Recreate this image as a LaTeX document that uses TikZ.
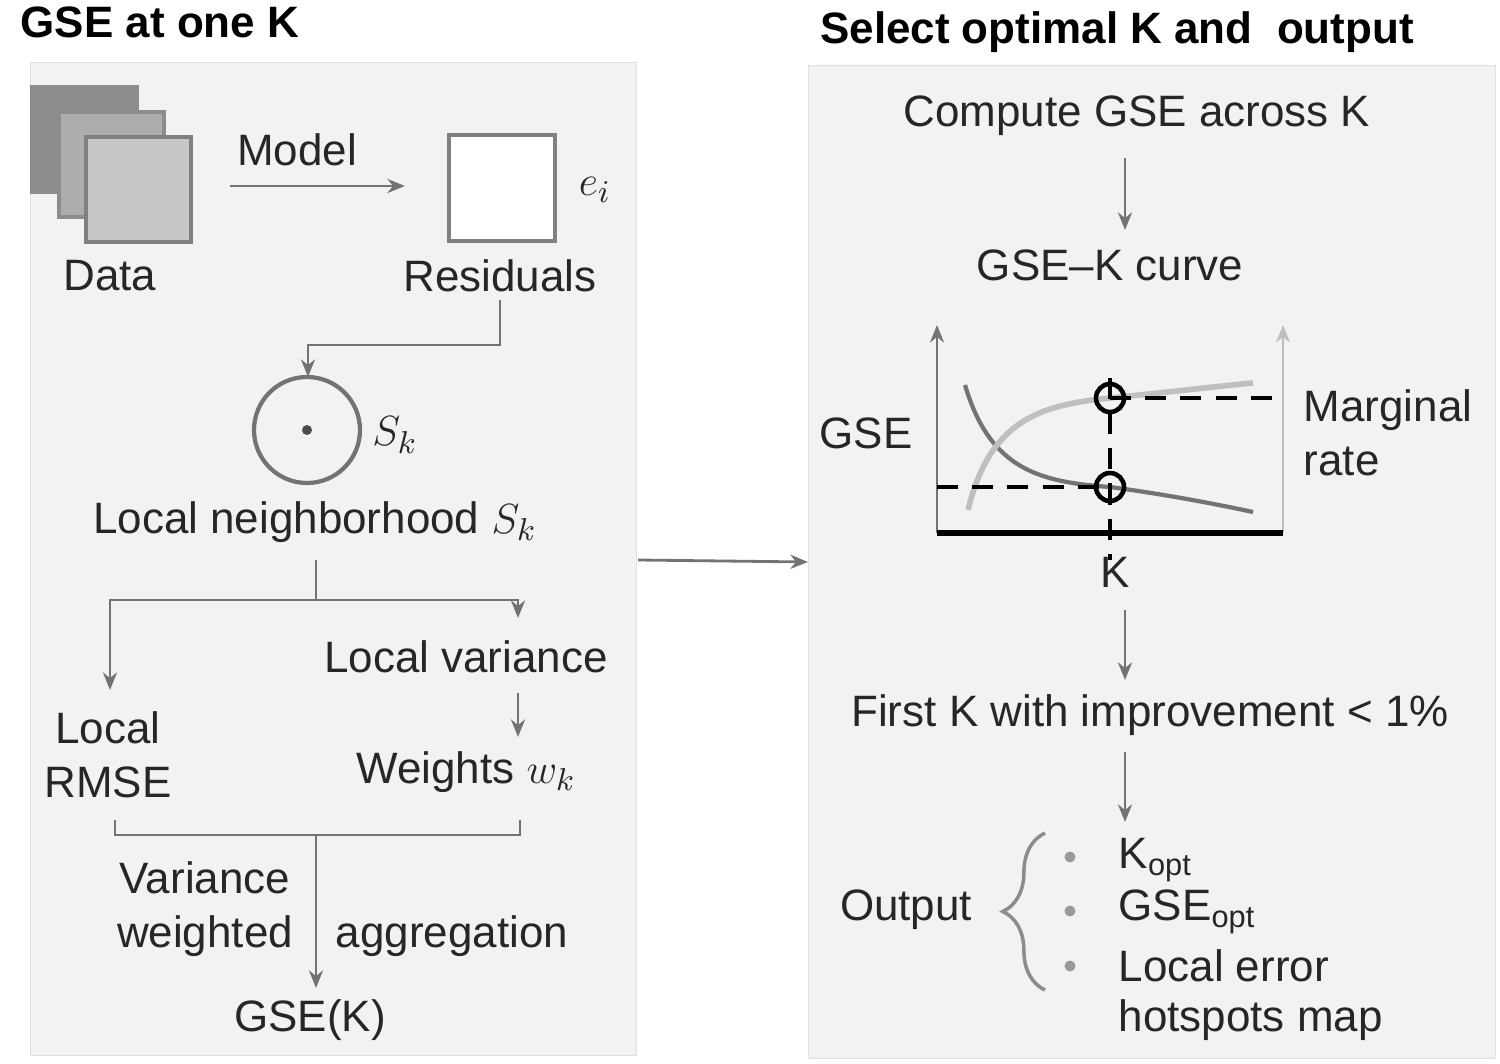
\documentclass[tikz,border=0pt]{standalone}
\usepackage{fontspec}
\setmainfont{Liberation Sans}
\usetikzlibrary{arrows.meta,decorations.pathreplacing}
\begin{document}
\begin{tikzpicture}[x=0.01cm,y=-0.01cm,
  t/.style={font=\fontsize{12.5}{15.5}\selectfont,text=black!85,inner sep=0pt},
  tl/.style={t,align=left,anchor=west},
  hd/.style={font=\bfseries\fontsize{12.5}{15}\selectfont,inner sep=0pt},
  ar/.style={draw=black!55,line width=0.8pt,-{Stealth[length=5pt,width=4pt]}},
  ln/.style={draw=black!55,line width=0.8pt},
  panel/.style={draw=black!12,fill=black!5}]
\useasboundingbox (0,0) rectangle (1500,1064);
\node[panel,minimum width=606*0.01cm,minimum height=993*0.01cm,inner sep=0,anchor=north west] (L) at (30,62) {};
\node[panel,minimum width=687*0.01cm,minimum height=993*0.01cm,inner sep=0,anchor=north west] (R) at (808,65) {};
\node[hd] (t1) at (160,22) {GSE at one K};
\node[hd] (t2) at (1117,32) {Select optimal K and\ \ output};
% data stack
\node[draw=black!45,fill=black!45,line width=1pt,minimum size=105*0.01cm,inner sep=0,anchor=north west] (d1) at (30,85) {};
\node[draw=black!45,fill=black!32,line width=1pt,minimum size=105*0.01cm,inner sep=0,anchor=north west] (d2) at (57,110) {};
\node[draw=black!50,fill=black!22,minimum size=105*0.01cm,inner sep=0,anchor=north west,line width=1.2pt] (d3) at (84,135) {};
\node[draw=black!50,fill=white,line width=1.2pt,minimum size=106*0.01cm,inner sep=0,anchor=north west] (res) at (447,133) {};
\node[t] (ei) at (595,190) {$e_i$};
\node[t] (model) at (297,150) {Model};
\coordinate (m1) at (230,186); \coordinate (m2) at (405,186);
\draw[ar] (m1) -- (m2);
\node[t] (data) at (110,276) {Data};
\node[t] (resl) at (500,276) {Residuals};
\coordinate (r1) at (500,300); \coordinate (r2) at (308,377);
\draw[ar] (r1) |- (308,345) -- (r2);
\node[circle,draw=black!55,line width=1.2pt,minimum size=106*0.01cm,inner sep=0] (circ) at (307,430) {};
\fill[black!70] (circ.center) circle (5*0.01cm);
\node[t] (sk) at (395,435) {$S_k$};
\node[t] (ln) at (315,522) {Local neighborhood $S_k$};
\coordinate (s1) at (316,560); \coordinate (s2) at (316,600);
\coordinate (a1) at (110,690); \coordinate (a2) at (518,618);
\draw[ln] (s1) -- (s2);
\draw[ar] (s2) -| (a1);
\draw[ar] (s2) -| (a2);
\node[t] (lv) at (466,657) {Local variance};
\coordinate (v1) at (518,693); \coordinate (v2) at (518,737);
\draw[ar] (v1) -- (v2);
\node[t] (wk) at (466,772) {Weights $w_k$};
\node[t,align=center] (rmse) at (108,755) {Local\\RMSE};
\coordinate (b1) at (115,820); \coordinate (b2) at (520,820);
\draw[ln] (b1) -- (115,835) -- (520,835) -- (b2);
\coordinate (g1) at (316,835); \coordinate (g2) at (316,988);
\draw[ar] (g1) -- (g2);
\node[t,align=center] (vw) at (205,909) {Variance\\weighted};
\node[t] (agg) at (452,936) {aggregation};
\node[t] (gsek) at (310,1020) {GSE(K)};
\coordinate (c1) at (638,560); \coordinate (c2) at (808,562);
\draw[ar] (c1) -- (c2);
% right panel
\node[t] (cg) at (1137,116) {Compute GSE across K};
\coordinate (k1) at (1125,158); \coordinate (k2) at (1125,230);
\draw[ar] (k1) -- (k2);
\node[t] (curve) at (1110,265) {GSE--K curve};
\coordinate (o) at (937,533); \coordinate (ya) at (937,325);
\coordinate (xe) at (1283,533); \coordinate (yb) at (1283,325);
\draw[ar,draw=black!55] (o) -- (ya);
\draw[ar,draw=black!25] (xe) -- (yb);
\draw[line width=1.6pt,black] (o) -- (xe);
\draw[black!55,line width=1.2pt] (965,385) .. controls (990,470) and (1040,482) .. (1110,487) .. controls (1170,495) and (1220,505) .. (1253,512);
\draw[black!25,line width=1.6pt] (968,510) .. controls (990,420) and (1040,405) .. (1110,398) .. controls (1170,392) and (1220,386) .. (1253,383);
\draw[dashed,line width=1.3pt,dash pattern=on 6pt off 4pt] (1110,378) -- (1110,560);
\draw[dashed,line width=1.3pt,dash pattern=on 6pt off 4pt] (937,487) -- (1110,487);
\draw[dashed,line width=1.3pt,dash pattern=on 6pt off 4pt] (1110,398) -- (1283,398);
\node[circle,draw=black,line width=1.3pt,minimum size=28*0.01cm,inner sep=0] (p1) at (1110,398) {};
\node[circle,draw=black,line width=1.3pt,minimum size=28*0.01cm,inner sep=0] (p2) at (1110,487) {};
\node[t] (gse) at (866,433) {GSE};
\node[tl,align=left] (mr) at (1303,433) {Marginal\\rate};
\node[t] (kk) at (1115,572) {K};
\coordinate (k3) at (1125,610); \coordinate (k4) at (1125,680);
\draw[ar] (k3) -- (k4);
\node[t] (fk) at (1150,715) {First K with improvement < 1\%};
\coordinate (k5) at (1125,752); \coordinate (k6) at (1125,822);
\draw[ar] (k5) -- (k6);
\node[t] (out) at (906,910) {Output};
\draw[black!45,line width=1pt,decorate,decoration={brace,amplitude=12pt}] (1045,990) -- (1045,833);
\foreach \y/\n in {857/u1,911/u2,966/u3} \fill[black!40] (1070,\y) circle (5.5*0.01cm);
\node[tl] (ko) at (1118,860) {K\textsubscript{opt}};
\node[tl] (go) at (1118,912) {GSE\textsubscript{opt}};
\node[tl] (le) at (1118,966) {Local error};
\node[tl] (hm) at (1118,1020) {hotspots map};
\end{tikzpicture}
\end{document}
